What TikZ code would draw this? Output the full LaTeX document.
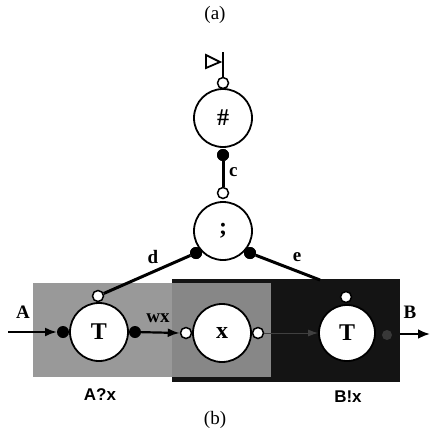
\documentclass[tikz,border=0pt]{standalone}
\usepackage{fontspec}
\setmainfont{Liberation Serif}
\newfontfamily\lsans{Liberation Sans}
\usetikzlibrary{arrows.meta}
\tikzset{
  big/.style={circle,draw=black,line width=1.8pt,fill=white,minimum size=58pt,inner sep=0pt,font=\bfseries\fontsize{24}{24}\selectfont},
  port/.style={circle,draw=black,line width=1.5pt,fill=white,minimum size=11pt,inner sep=0pt},
  dot/.style={circle,fill=black,minimum size=12pt,inner sep=0pt},
  wire/.style={line width=3pt},
  lbl/.style={font=\bfseries\fontsize{19}{19}\selectfont,inner sep=0pt},
  captxt/.style={font=\lsans\bfseries\fontsize{17}{17}\selectfont,inner sep=0pt},
  ttl/.style={font=\fontsize{19}{19}\selectfont,inner sep=0pt}
}
\begin{document}
\begin{tikzpicture}[x=1pt,y=-1pt]
\useasboundingbox (0,0) rectangle (430,433);
% boxes
\fill[black!92] (172,279) rectangle (400,382);
\fill[black!40] (33,283) rectangle (172,377);
\fill[black!47] (172,283) rectangle (271,377);
% titles
\node[ttl] (ta) at (215,15) {(a)};
\node[ttl] (tb) at (215,420) {(b)};
% top
\node[big] (hash) at (223,118) {\#};
\node[port] (hp) at (223,83) {};
\node[dot] (hd) at (223,155) {};
\coordinate (bartop) at (223,52);
\draw[line width=2.2pt] (hp.north) -- (bartop);
\draw[line width=1.8pt,line join=miter] (206,55) -- (220,62) -- (206,68) -- cycle;
\node[big] (seq) at (223,231) {;};
\node[port] (sp) at (223,193) {};
\draw[wire] (hd) -- (sp.north);
\node[dot] (hd2) at (223,155) {};
\node[lbl,anchor=west] (lc) at (229,172) {c};
% bottom row
\node[big] (t1) at (99,332) {T};
\node[big] (xx) at (222,333) {x};
\node[big,minimum size=56pt] (t2) at (347,333) {T};
\node[port] (t1p) at (98,296) {};
\node[port] (t2p) at (346,297) {};
\node[dot] (t1l) at (63,332) {};
\node[dot] (t1r) at (135,332) {};
\node[port] (xl) at (186,333) {};
\node[port] (xr) at (258,333) {};
\node[dot] (sdl) at (196,253) {};
\node[dot] (sdr) at (250,253) {};
\draw[wire] (sdl) -- (t1p);
\draw[wire] (sdr) -- (320,280);
\node[dot] at (196,253) {};
\node[dot] at (250,253) {};
\node[lbl] (ld) at (153,257) {d};
\node[lbl] (le) at (297,257) {e};
% connectors
\coordinate (ain) at (8,332);
\draw[line width=2.2pt,-{Latex[length=12pt,width=9pt]}] (ain) -- (57,332);
\draw[line width=2.2pt,-{Latex[length=12pt,width=9pt]}] (t1r) -- (xl.west);
\draw[line width=1pt,black!75,-{Latex[length=10pt,width=7pt]}] (xr) -- (t2.west);
\node[circle,fill=black!78,minimum size=10pt,inner sep=0pt] (t2r) at (387,335) {};
\coordinate (bout) at (430,334);
\draw[line width=2.5pt,-{Latex[length=12pt,width=10pt]}] (400,334) -- (bout);
\node[lbl] (la) at (23,312) {A};
\node[lbl] (lb) at (410,312) {B};
\node[lbl] (lw) at (158,318) {wx};
\node[captxt] (ca) at (100,395) {A?x};
\node[captxt] (cb) at (348,397) {B!x};
\end{tikzpicture}
\end{document}
